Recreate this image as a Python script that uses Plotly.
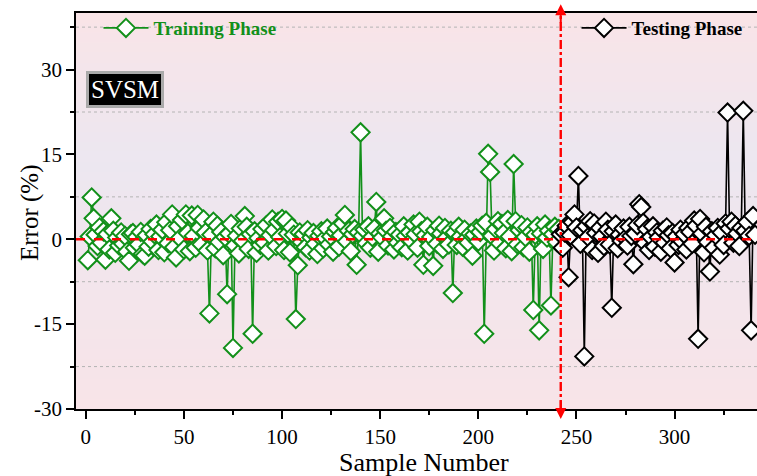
import plotly.graph_objects as go

# ---------------- data ----------------
train_start = 1
train_err = [
    -3.7, 0.5, 7.4, 3.7, 0.8, -1.2, 2.1, -0.6, 1.4, -3.6,
    0.9, -1.8, 3.7, 1.5, -2.4, 0.3, -1.1, 1.2, -0.8, 0.6,
    -2.2, -3.8, 0.9, 1.1, -1.5, 0.4, -0.9, 1.3, -2.6, -2.9,
    0.7, -1.3, 1.8, -0.4, 0.9, 2.6, -1.9, 0.5, 1.7, -2.3,
    3.0, -0.7, 1.6, 4.4, -1.4, -3.2, 2.3, 0.2, 3.4, -1.8,
    4.4, 1.1, -2.1, 4.2, 0.6, -1.5, 4.3, 2.0, -0.9, 3.5,
    1.2, -2.0, -13.1, 0.8, 3.1, -1.6, 2.4, -0.5, 1.3, -2.8,
    0.4, -9.7, 1.0, 2.7, -19.2, -1.1, 0.6, -2.5, 1.9, -0.3,
    4.1, 2.2, -1.7, 0.9, -16.7, 1.4, -2.4, 0.2, -1.0, 1.8,
    -0.6, 2.5, -2.0, 0.7, 3.5, 1.6, -1.2, 3.1, 0.4, 3.6,
    -1.9, 3.3, 1.0, -2.3, 2.1, 0.8, -14.1, -4.6, 1.2, -0.5,
    0.9, -1.4, 1.6, -2.0, 0.3, 1.1, -0.8, -2.6, 0.6, 1.4,
    -1.6, 0.2, 1.9, -0.9, 0.5, -2.2, 1.3, 2.0, -1.3, 0.7,
    2.8, 4.3, -0.4, 1.5, -2.1, 0.9, 1.8, -4.5, 1.2, 18.9,
    0.6, 1.7, -0.7, 2.3, -1.5, 0.4, 1.9, 6.6, -2.2, 1.0,
    0.3, 3.7, 1.5, -1.1, 2.0, 0.5, -1.8, 1.3, -0.6, 0.8,
    -1.4, 2.3, 0.6, -2.0, 1.2, -0.3, 2.6, 0.9, -1.5, 3.1,
    1.4, -4.5, 0.7, 2.2, -1.2, 0.4, -4.7, 1.6, -0.8, 2.4,
    1.0, -1.7, 2.0, 0.3, -0.9, 1.5, -9.5, 1.2, -1.0, 2.2,
    0.5, -1.3, 1.7, 0.1, -0.6, 1.0, -2.9, 0.8, 1.9, -0.4,
    1.3, 2.4, -16.7, 2.9, 15.1, 11.9, 0.6, -2.0, 1.8, 3.2,
    -0.7, 2.7, 1.1, -1.6, 3.4, 0.5, -2.1, 13.3, 3.2, -0.9,
    1.6, 2.5, -1.4, 0.4, 2.1, -2.2, 1.3, -12.5, 0.8, 2.3,
    -16.1, 1.0, -1.7, 2.6, 0.3, 1.5, -11.7, 0.9, 2.2, -0.5,
    1.8,
]
test_start = 242
test_err = [
    0.9, -1.5, 1.2, 2.4, -6.7, 0.7, 3.0, 4.4, 2.1, 11.2,
    -0.8, 1.6, -20.7, 2.3, 0.4, 3.2, -1.9, 2.8, 1.1, -2.4,
    2.0, 0.5, -1.2, 3.1, 1.7, -0.9, -12.1, 1.4, 2.6, -1.6,
    0.8, -0.3, 1.9, 0.2, -1.1, 2.2, 0.6, -4.4, 1.0, 2.5,
    6.2, 5.7, 2.9, -0.7, 1.8, -1.9, 0.4, 2.3, -1.3, 1.2,
    0.3, -2.2, 1.5, -0.6, 2.1, 0.7, -1.6, 1.1, -4.1, 0.5,
    -1.0, 1.7, -0.4, 0.9, -1.8, 2.0, 1.3, -0.8, 3.3, 2.4,
    -17.6, 3.6, 1.0, -2.3, 2.2, -0.5, -5.7, 1.4, -1.5, 0.7,
    2.0, -2.7, 1.2, -1.0, 2.8, 22.4, 1.9, 3.1, -0.6, 2.4,
    1.0, -1.2, 2.0, 22.7, 1.5, 3.0, 0.6, -16.1, 4.1, 0.8,
]
train_x = list(range(train_start, train_start + len(train_err)))
test_x = list(range(test_start, test_start + len(test_err)))

phase_split = 242
y_ticks = [-30, -15, 0, 15, 30]
y_ticktext = ["-30", "-15", "0", "15", "30"]
y_minor = [-22.5, -7.5, 7.5, 22.5, 37.5]
x_ticks = [0, 50, 100, 150, 200, 250, 300]
x_minor = [25, 75, 125, 175, 225, 275, 325]
x_range = [-5, 342]
y_range = [-30, 40]

GREEN = "#12901a"
RED = "#ff0000"
FONT = "'Liberation Serif', 'Times New Roman', serif"

fig = go.Figure()

fig.add_trace(go.Scatter(
    x=train_x, y=train_err, mode="lines+markers", name="Training Phase",
    line=dict(color=GREEN, width=1.6),
    marker=dict(symbol="diamond", size=14, color="white",
                line=dict(color=GREEN, width=2)),
    legend="legend",
))
fig.add_trace(go.Scatter(
    x=test_x, y=test_err, mode="lines+markers", name="Testing Phase",
    line=dict(color="black", width=1.6),
    marker=dict(symbol="diamond", size=14, color="white",
                line=dict(color="black", width=2)),
    legend="legend2",
))

# background gradient (pink -> lavender -> pink)
stops = [(0.0, (248, 228, 232)), (0.35, (242, 229, 236)), (0.62, (236, 231, 240)),
         (0.85, (244, 229, 235)), (1.0, (249, 228, 231))]
nb = 40
shapes = []
for i in range(nb):
    t0 = i / nb
    t1 = (i + 1) / nb
    tm = (t0 + t1) / 2
    for j in range(len(stops) - 1):
        a, ca = stops[j]
        b, cb = stops[j + 1]
        if a <= tm <= b:
            f = (tm - a) / (b - a)
            c = tuple(int(round(ca[k] + (cb[k] - ca[k]) * f)) for k in range(3))
            break
    shapes.append(dict(type="rect", xref="paper", yref="paper", x0=0, x1=1,
                       y0=t0, y1=t1 + 0.002, fillcolor="rgb(%d,%d,%d)" % c,
                       line=dict(width=0), layer="below"))

# grid lines (dashed) at minor positions
for g in y_minor:
    shapes.append(dict(type="line", xref="paper", yref="y", x0=0, x1=1, y0=g, y1=g,
                       line=dict(color="#b4b4b4", width=1, dash="dot"), layer="below"))

# zero line
shapes.append(dict(type="line", xref="paper", yref="y", x0=0, x1=1, y0=0, y1=0,
                   line=dict(color=RED, width=2.4, dash="dash"), layer="above"))
# phase split
shapes.append(dict(type="line", xref="x", yref="paper", x0=phase_split, x1=phase_split,
                   y0=0, y1=1, line=dict(color=RED, width=2.4, dash="dashdot"),
                   layer="above"))

fig.update_layout(shapes=shapes)

annotations = [
    dict(x=phase_split, y=1.022, xref="x", yref="paper", ax=0, ay=20, showarrow=True,
         arrowhead=2, arrowsize=1.1, arrowwidth=2, arrowcolor=RED, text=""),
    dict(x=phase_split, y=-0.025, xref="x", yref="paper", ax=0, ay=-20, showarrow=True,
         arrowhead=2, arrowsize=1.1, arrowwidth=2, arrowcolor=RED, text=""),
    dict(x=0.014, y=0.853, xref="paper", yref="paper", xanchor="left", yanchor="top",
         text="SVSM", showarrow=False, bgcolor="black", bordercolor="#aaaaaa",
         borderwidth=3, borderpad=2,
         font=dict(family=FONT, size=25, color="white")),
    # axis titles
    dict(x=-0.0675, y=0.495, xref="paper", yref="paper", xanchor="center",
         yanchor="middle", textangle=-90, text="Error (%)", showarrow=False,
         font=dict(family=FONT, size=25, color="black")),
    dict(x=0.5105, y=-0.134, xref="paper", yref="paper", xanchor="center",
         yanchor="middle", text="Sample Number", showarrow=False,
         font=dict(family=FONT, size=26, color="black")),
]
fig.update_layout(annotations=annotations)

fig.update_layout(
    width=757, height=476,
    margin=dict(l=76, r=0, t=13, b=67, autoexpand=False),
    paper_bgcolor="white",
    plot_bgcolor="rgba(0,0,0,0)",
    font=dict(family=FONT, size=18, color="black"),
    showlegend=True,
    legend=dict(x=0.033, y=0.962, xanchor="left", yanchor="middle",
                bgcolor="rgba(0,0,0,0)", itemwidth=45,
                font=dict(family=FONT, size=19, color=GREEN, weight="bold")),
    legend2=dict(x=0.735, y=0.962, xanchor="left", yanchor="middle",
                 bgcolor="rgba(0,0,0,0)", itemwidth=45,
                 font=dict(family=FONT, size=19, color="black", weight="bold")),
    xaxis=dict(
        range=x_range, tickmode="array", tickvals=x_ticks,
        showgrid=False, zeroline=False, automargin=False,
        showline=True, linecolor="black", linewidth=1.5, mirror=True,
        ticks="outside", ticklen=8, tickwidth=1.5, tickcolor="black",
        minor=dict(tickmode="array", tickvals=x_minor, ticks="outside",
                   ticklen=4, tickwidth=1.5, tickcolor="black", showgrid=False),
        tickfont=dict(family=FONT, size=21),
    ),
    yaxis=dict(
        range=y_range, tickmode="array", tickvals=y_ticks, ticktext=y_ticktext,
        showgrid=False, zeroline=False, automargin=False,
        showline=True, linecolor="black", linewidth=1.5,
        ticks="outside", ticklen=8, tickwidth=1.5, tickcolor="black",
        minor=dict(tickmode="array", tickvals=y_minor, ticks="outside",
                   ticklen=4, tickwidth=1.5, tickcolor="black", showgrid=False),
        tickfont=dict(family=FONT, size=21),
    ),
)

fig.write_html("out.html", config={"displayModeBar": False},
               post_script="document.body.style.margin='0';")
